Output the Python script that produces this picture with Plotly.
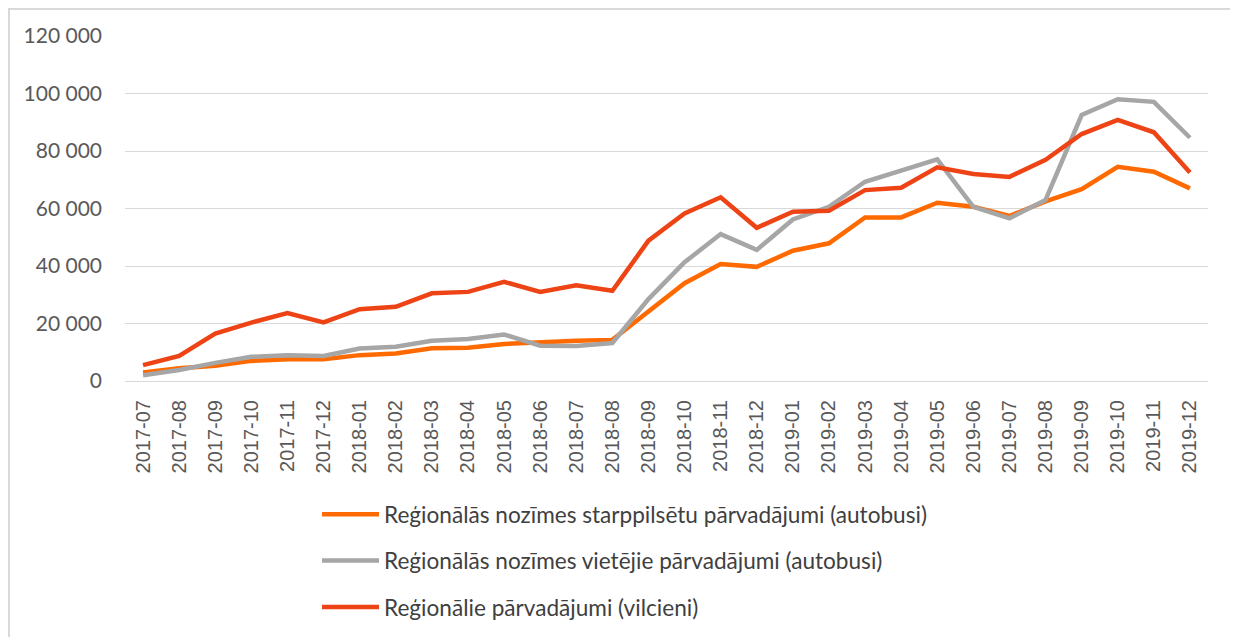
import plotly.graph_objects as go

months = ["2017-07","2017-08","2017-09","2017-10","2017-11","2017-12",
          "2018-01","2018-02","2018-03","2018-04","2018-05","2018-06",
          "2018-07","2018-08","2018-09","2018-10","2018-11","2018-12",
          "2019-01","2019-02","2019-03","2019-04","2019-05","2019-06",
          "2019-07","2019-08","2019-09","2019-10","2019-11","2019-12"]

intercity_bus = [3000, 4400, 5300, 7000, 7600, 7600, 9000, 9600, 11400, 11600,
                 12900, 13600, 14000, 14300, 24100, 34000, 40700, 39700, 45300, 47900,
                 56900, 56900, 62000, 60600, 57400, 62500, 66700, 74500, 72800, 67000]

local_bus = [2000, 3800, 6300, 8400, 9000, 8700, 11300, 11900, 14000, 14600,
             16200, 12300, 12200, 13200, 28500, 41300, 51100, 45600, 56200, 60600,
             69300, 73100, 77100, 60600, 56600, 63000, 92500, 98000, 97100, 84600]

trains = [5500, 8700, 16500, 20300, 23600, 20400, 25000, 25800, 30500, 31000,
          34500, 31000, 33300, 31400, 48800, 58300, 63900, 53300, 58900, 59200,
          66400, 67200, 74300, 72000, 71000, 76900, 85900, 90800, 86500, 72500]

names = ["Reģionālās nozīmes starppilsētu pārvadājumi (autobusi)",
         "Reģionālās nozīmes vietējie pārvadājumi (autobusi)",
         "Reģionālie pārvadājumi (vilcieni)"]
colors = ["#FF6A00", "#A6A6A6", "#EE4415"]

y_tickvals = [0, 20000, 40000, 60000, 80000, 100000, 120000]
y_ticktext = ["0", "20 000", "40 000", "60 000", "80 000", "100 000", "120 000"]

fig = go.Figure()
for i, (vals, nm, col) in enumerate([(intercity_bus, names[0], colors[0]),
                                     (local_bus, names[1], colors[1]),
                                     (trains, names[2], colors[2])]):
    fig.add_trace(go.Scatter(x=months, y=vals, name=nm, mode="lines",
                             line=dict(color=col, width=4.5),
                             legendgroup="g%d" % i))

# page has an 8px body margin; figure coords = page coords - 8
# plot area (page): x 125..1208, y 36..381
OFF = 8
PL, PR, PT, PB = 125 - OFF, 1208 - OFF, 36 - OFF, 381 - OFF
W, H = 1230, 629

def px_x(p):
    return (p - OFF - PL) / float(PR - PL)
def px_y(p):
    return (PB - (p - OFF)) / float(PB - PT)

fig.update_layout(
    width=W, height=H,
    margin=dict(l=PL, r=W - PR, t=PT, b=H - PB, autoexpand=False),
    paper_bgcolor="white", plot_bgcolor="white",
    font=dict(family="Lato, Open Sans, sans-serif", color="#595959", size=21),
    showlegend=True,
    legend=dict(x=px_x(317), y=px_y(493), xanchor="left", yanchor="top",
                font=dict(family="Lato, sans-serif", size=22.6, color="#404040"),
                itemwidth=57, tracegroupgap=14, bgcolor="rgba(0,0,0,0)"),
    xaxis=dict(type="category", tickangle=-90, tickmode="array", tickvals=months,
               tickfont=dict(family="Liberation Sans, Arial, sans-serif", size=20, color="#595959"),
               showgrid=False, showline=False, zeroline=False,
               ticks="", ticklabelstandoff=14, range=[-0.5, 29.5]),
    yaxis=dict(range=[0, 120000], tickvals=y_tickvals, ticktext=y_ticktext,
               showgrid=True, gridcolor="#D9D9D9", gridwidth=1.3,
               zeroline=True, zerolinecolor="#D9D9D9", zerolinewidth=1.3,
               showline=False, ticks="", ticklabelstandoff=22,
               tickfont=dict(family="Lato, sans-serif", size=21, color="#595959")),
    shapes=[dict(type="rect", xref="paper", yref="paper",
                 x0=px_x(9), x1=px_x(1236), y0=px_y(660), y1=px_y(9),
                 line=dict(color="#D9D9D9", width=2), fillcolor="rgba(0,0,0,0)",
                 layer="below")],
)

fig.write_html("out.html")
